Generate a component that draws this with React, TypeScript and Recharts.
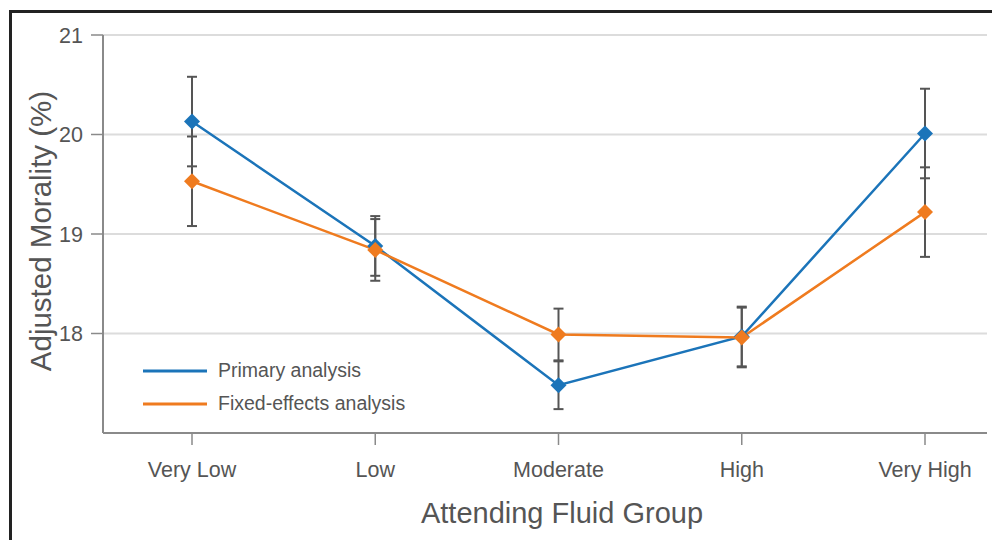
import { CartesianGrid, ErrorBar, Label, Legend, Line, LineChart, XAxis, YAxis } from "recharts"

// values
const groups = ["Very Low", "Low", "Moderate", "High", "Very High"]
const seriesNames = ["Primary analysis", "Fixed-effects analysis"]
const primary = [20.13, 18.88, 17.48, 17.97, 20.01]
const primaryErr = [0.45, 0.3, 0.24, 0.3, 0.45]
const fixedEffects = [19.53, 18.84, 17.99, 17.96, 19.22]
const fixedEffectsErr = [0.45, 0.31, 0.26, 0.3, 0.45]
const yTicks = [18, 19, 20, 21]

const BLUE = "#1b74b9"
const ORANGE = "#ef7b1f"
const TEXT = "#555555"
const AXIS = "#8a8a8a"
const FONT = '"Liberation Sans", Arial, sans-serif'

const data = groups.map((group, i) => ({
  group,
  primary: primary[i],
  primaryErr: primaryErr[i],
  fixed: fixedEffects[i],
  fixedErr: fixedEffectsErr[i],
}))

const diamond = (color: string) => (props: any) => {
  const { cx, cy, index } = props
  if (cx == null || cy == null) return null
  const r = 8
  return (
    <polygon
      key={`d-${index}`}
      points={`${cx},${cy - r} ${cx + r},${cy} ${cx},${cy + r} ${cx - r},${cy}`}
      fill={color}
    />
  )
}

const renderLegend = (props: any) => {
  const items = [...(props.payload || [])].sort(
    (a: any, b: any) => seriesNames.indexOf(a.value) - seriesNames.indexOf(b.value)
  )
  return (
    <div style={{ fontFamily: FONT }}>
      {items.map((item: any) => (
        <div key={item.value} style={{ display: "flex", alignItems: "center", height: 33 }}>
          <svg width={64} height={4} style={{ display: "block" }}>
            <line x1={0} y1={2} x2={64} y2={2} stroke={item.color} strokeWidth={3} />
          </svg>
          <span style={{ marginLeft: 11, fontSize: 19.5, color: TEXT, whiteSpace: "nowrap" }}>{item.value}</span>
        </div>
      ))}
    </div>
  )
}

const xTitle = (props: any) => {
  const vb = props.viewBox
  return (
    <text x={vb.x + vb.width / 2 + 17} y={vb.y + 90} textAnchor="middle" fontSize={29} fill={TEXT} fontFamily={FONT}>
      Attending Fluid Group
    </text>
  )
}

const yTitle = (props: any) => {
  const vb = props.viewBox
  const x = vb.x + 43
  const y = vb.y + vb.height / 2 - 3
  return (
    <text x={x} y={y} transform={`rotate(-90, ${x}, ${y})`} textAnchor="middle" fontSize={29.5} fill={TEXT} fontFamily={FONT}>
      Adjusted Morality (%)
    </text>
  )
}

export default function App() {
  return (
    <div style={{ position: "absolute", left: 0, top: 0, width: 992, height: 540, background: "#fff", overflow: "hidden", fontFamily: FONT }}>
      <div
        style={{
          position: "absolute",
          left: 9,
          top: 10,
          width: 1000,
          height: 600,
          borderLeft: "3px solid #222",
          borderTop: "3px solid #222",
        }}
      />
      <div style={{ position: "absolute", left: 0, top: 0 }}>
        <LineChart width={992} height={540} data={data} margin={{ top: 35, right: 5, bottom: 0, left: 8 }}>
          <CartesianGrid vertical={false} stroke="#dcdcdc" strokeWidth={2} />
          <XAxis
            dataKey="group"
            scale="point"
            padding={{ left: 89, right: 62 }}
            height={107}
            tickSize={12}
            tickMargin={17}
            axisLine={{ stroke: AXIS, strokeWidth: 2 }}
            tickLine={{ stroke: AXIS, strokeWidth: 1.5 }}
            tick={{ fill: TEXT, fontSize: 21.5 }}
          >
            <Label content={xTitle} />
          </XAxis>
          <YAxis
            domain={[17, 21]}
            ticks={yTicks}
            width={95}
            tickSize={12}
            tickMargin={8}
            axisLine={{ stroke: AXIS, strokeWidth: 2 }}
            tickLine={{ stroke: AXIS, strokeWidth: 1.5 }}
            tick={{ fill: TEXT, fontSize: 21.5 }}
          >
            <Label content={yTitle} />
          </YAxis>
          <Legend
            layout="vertical"
            align="center"
            verticalAlign="middle"
            wrapperStyle={{ left: 143, top: 354, width: 320 }}
            content={renderLegend}
          />
          <Line
            dataKey="primary"
            name={seriesNames[0]}
            stroke={BLUE}
            strokeWidth={2.5}
            dot={diamond(BLUE)}
            activeDot={false}
            isAnimationActive={false}
          >
            <ErrorBar dataKey="primaryErr" width={5} stroke="#555" strokeWidth={2} isAnimationActive={false} />
          </Line>
          <Line
            dataKey="fixed"
            name={seriesNames[1]}
            stroke={ORANGE}
            strokeWidth={2.5}
            dot={diamond(ORANGE)}
            activeDot={false}
            isAnimationActive={false}
          >
            <ErrorBar dataKey="fixedErr" width={5} stroke="#555" strokeWidth={2} isAnimationActive={false} />
          </Line>
        </LineChart>
      </div>
    </div>
  )
}
